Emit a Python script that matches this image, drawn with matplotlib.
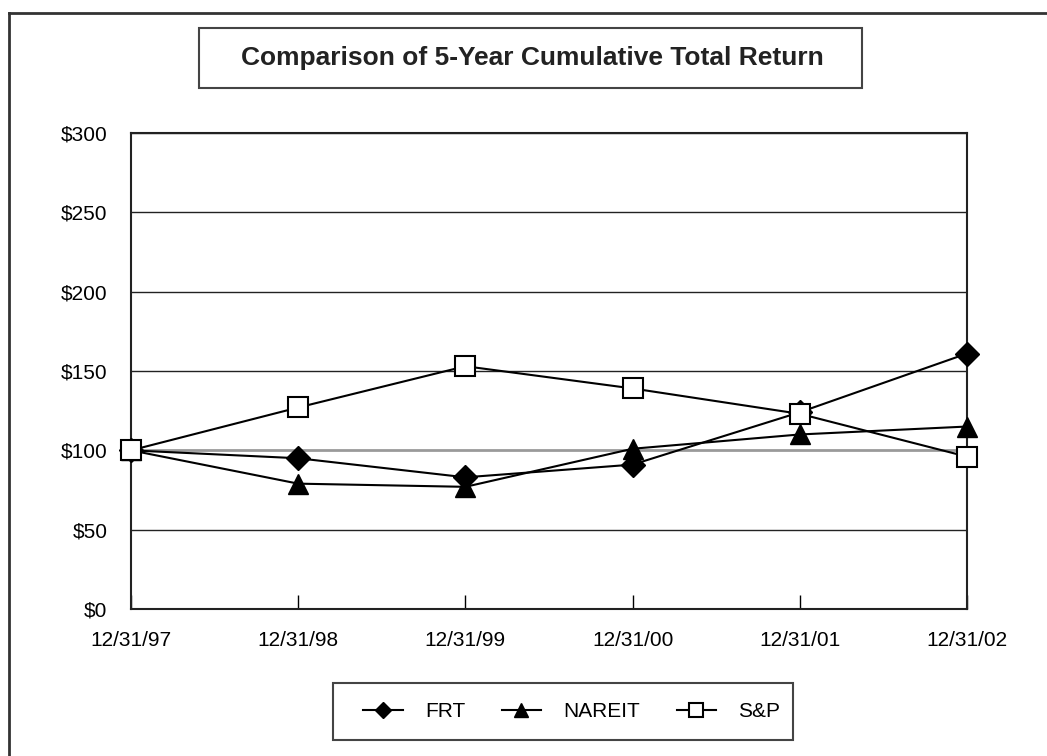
import matplotlib.pyplot as plt
from matplotlib.patches import Rectangle
from matplotlib.lines import Line2D

plt.rcParams['font.family'] = ['Liberation Sans', 'DejaVu Sans']

dates = ["12/31/97", "12/31/98", "12/31/99", "12/31/00", "12/31/01", "12/31/02"]
frt = [100, 95, 83, 91, 124, 161]
nareit = [100, 79, 77, 101, 110, 115]
sp = [100, 127, 153, 139, 123, 96]
yticks = [0, 50, 100, 150, 200, 250, 300]

W, H = 1047, 756
fig = plt.figure(figsize=(W / 100, H / 100), dpi=100)
ax = fig.add_axes([131 / W, 1 - 609 / H, 836 / W, 476 / H])

x = list(range(len(dates)))
for yv in yticks[1:]:
    if yv == 100:
        ax.axhline(yv, color='#9a9a9a', lw=2, zorder=1)
    else:
        ax.axhline(yv, color='#222222', lw=1, zorder=1)

ax.plot(x, frt, color='black', lw=1.5, marker='D', markersize=12,
        markerfacecolor='black', markeredgecolor='black', label='FRT', zorder=3, clip_on=False)
ax.plot(x, nareit, color='black', lw=1.5, marker='^', markersize=15,
        markerfacecolor='black', markeredgecolor='black', label='NAREIT', zorder=3, clip_on=False)
ax.plot(x, sp, color='black', lw=1.5, marker='s', markersize=15,
        markerfacecolor='white', markeredgecolor='black', markeredgewidth=1.5,
        label='S&P', zorder=4, clip_on=False)

ax.set_xlim(0, len(dates) - 1)
ax.set_ylim(0, 300)
ax.set_yticks(yticks)
ax.set_yticklabels(['$%d' % v for v in yticks])
ax.set_xticks(x)
ax.set_xticklabels(dates)
ax.tick_params(axis='y', length=0, pad=17, labelsize=15, labelcolor='black')
ax.tick_params(axis='x', direction='in', length=10, width=1, pad=16, labelsize=15,
               labelcolor='black')
for s in ax.spines.values():
    s.set_linewidth(1.5)
    s.set_color('#222222')

# figure frame (left and top edges)
fig.add_artist(Line2D([9 / W, 9 / W], [0, 1 - 13 / H], transform=fig.transFigure,
                      color='#333333', lw=2))
fig.add_artist(Line2D([9 / W, 1], [1 - 13 / H, 1 - 13 / H], transform=fig.transFigure,
                      color='#333333', lw=2))

# title box
fig.add_artist(Rectangle((199 / W, 1 - 88 / H), 663 / W, 60 / H, transform=fig.transFigure,
                         facecolor='white', edgecolor='#444444', lw=1.5))
fig.text(532 / W, 1 - 58 / H, 'Comparison of 5-Year Cumulative Total Return',
         ha='center', va='center', fontsize=19, fontweight='bold', color='#222222')

# legend box
fig.add_artist(Rectangle((333 / W, 1 - 740 / H), 460 / W, 57 / H, transform=fig.transFigure,
                         facecolor='white', edgecolor='#444444', lw=1.5, zorder=0))
leg = ax.legend(loc='center left', bbox_to_anchor=(363 / W, 1 - 711.5 / H),
                bbox_transform=fig.transFigure, ncol=3, fontsize=15, frameon=False,
                markerscale=0.65, handlelength=1.9, handletextpad=1.07,
                columnspacing=1.75, borderpad=0, borderaxespad=0)

fig.savefig('out.png', dpi=100)
